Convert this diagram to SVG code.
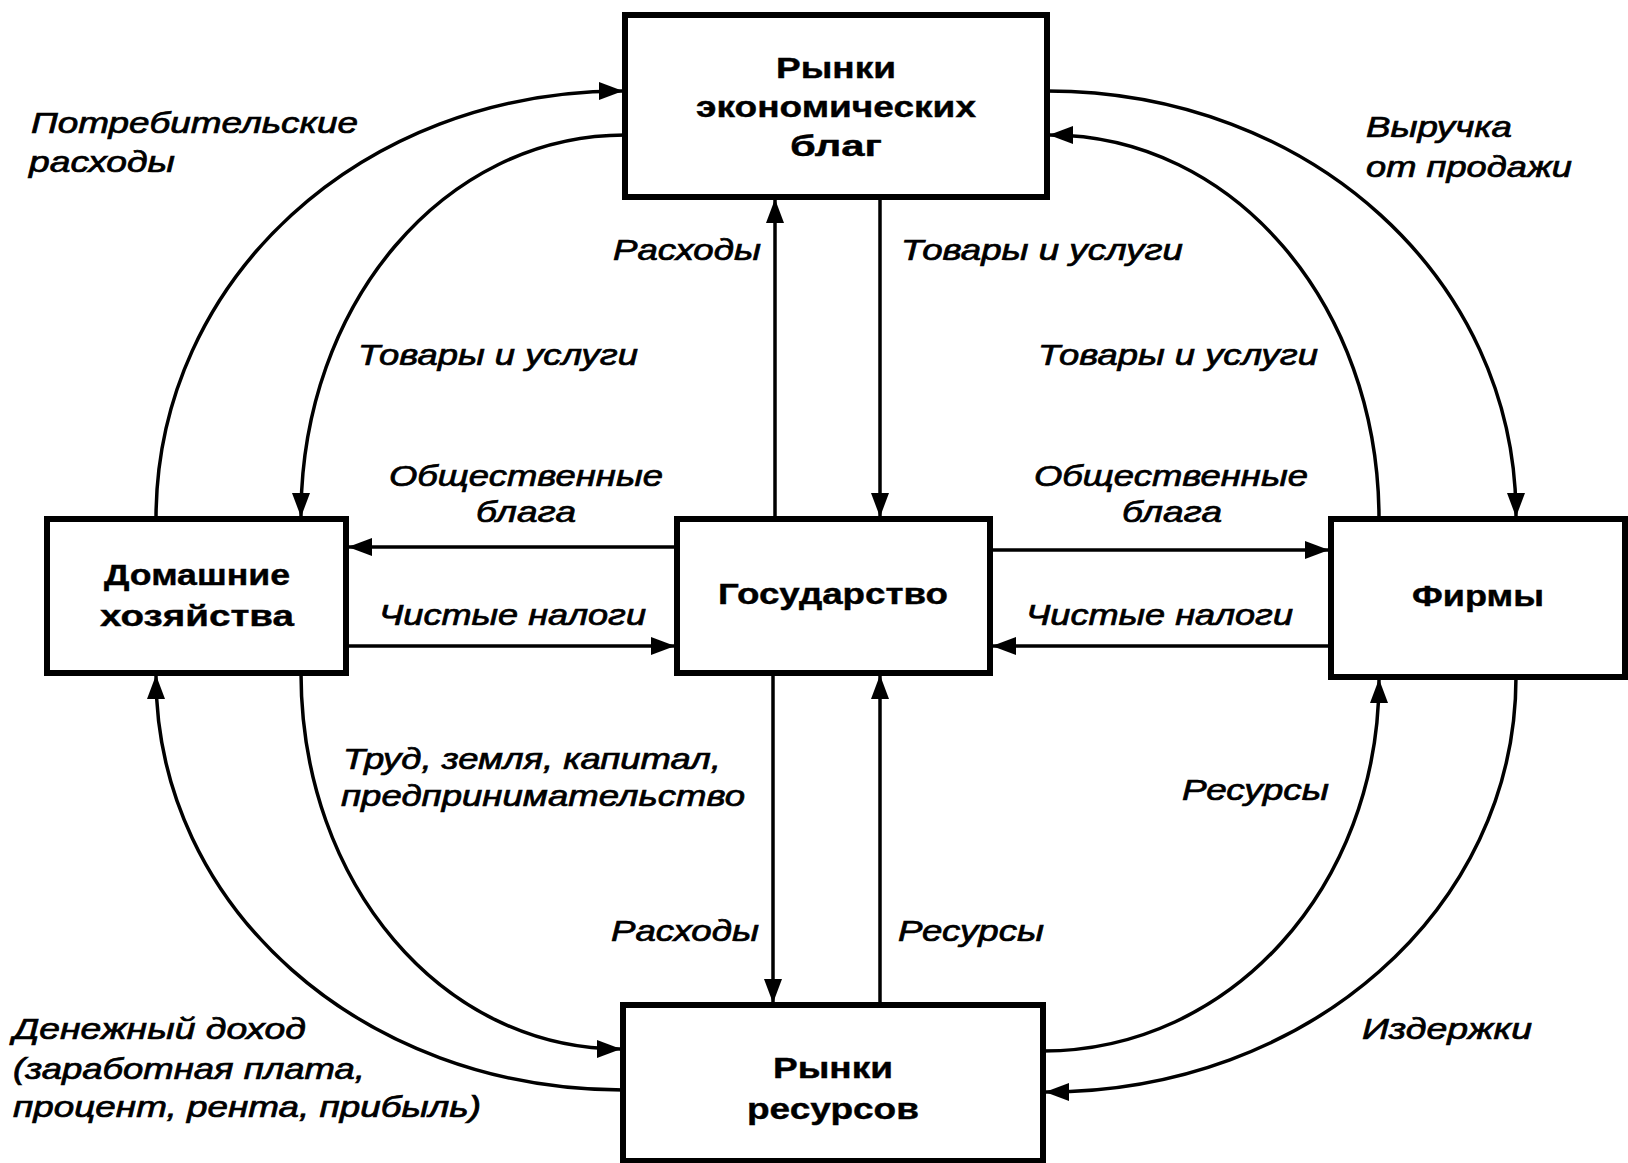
<svg xmlns="http://www.w3.org/2000/svg" width="1628" height="1163" viewBox="0 0 1628 1163">
<style>
.box{fill:#fff;stroke:#000;stroke-width:6}
.nt{font-family:"Liberation Sans",Arial,sans-serif;font-weight:bold;font-size:29px;fill:#000;stroke:#000;stroke-width:0.4;text-anchor:middle}
.lb{font-family:"Liberation Sans",Arial,sans-serif;font-style:italic;font-size:29px;fill:#000;stroke:#000;stroke-width:0.7}
.ln{fill:none;stroke:#000;stroke-width:3.5}
</style>
<defs>
<marker id="ah" markerUnits="userSpaceOnUse" markerWidth="24" markerHeight="18" refX="23" refY="9" orient="auto">
<path d="M0,0 L24,9 L0,18 z" fill="#000"/>
</marker>
</defs>
<rect width="1628" height="1163" fill="#fff"/>
<g id="connectors">
<path class="ln" d="M156,519 C156,279 362,91 622,91" marker-end="url(#ah)"/>
<path class="ln" d="M625,135 C444,135 301,304 301,516" marker-end="url(#ah)"/>
<path class="ln" d="M1047,91 C1310,91 1516,279 1516,516" marker-end="url(#ah)"/>
<path class="ln" d="M1379,519 C1379,304 1233,135 1050,135" marker-end="url(#ah)"/>
<path class="ln" d="M301,673 C301,884 443,1049 620,1049" marker-end="url(#ah)"/>
<path class="ln" d="M623,1090 C362,1090 156,907 156,676" marker-end="url(#ah)"/>
<path class="ln" d="M1043,1051 C1231,1051 1379,886 1379,680" marker-end="url(#ah)"/>
<path class="ln" d="M1516,677 C1516,909 1308,1092 1046,1092" marker-end="url(#ah)"/>
<path class="ln" d="M775,519 L775,200" marker-end="url(#ah)"/>
<path class="ln" d="M880,197 L880,516" marker-end="url(#ah)"/>
<path class="ln" d="M773,673 L773,1002" marker-end="url(#ah)"/>
<path class="ln" d="M880,1005 L880,676" marker-end="url(#ah)"/>
<path class="ln" d="M677,547 L349,547" marker-end="url(#ah)"/>
<path class="ln" d="M346,646 L674,646" marker-end="url(#ah)"/>
<path class="ln" d="M990,550 L1328,550" marker-end="url(#ah)"/>
<path class="ln" d="M1331,646 L993,646" marker-end="url(#ah)"/>
</g>
<g id="n-markets-goods">
<rect class="box" x="625" y="15" width="422" height="182"/>
<text class="nt" x="836" y="78" textLength="120" lengthAdjust="spacingAndGlyphs">Рынки</text>
<text class="nt" x="836" y="117" textLength="280" lengthAdjust="spacingAndGlyphs">экономических</text>
<text class="nt" x="836" y="156" textLength="92" lengthAdjust="spacingAndGlyphs">благ</text>
</g>
<g id="n-households">
<rect class="box" x="47" y="519" width="299" height="154"/>
<text class="nt" x="197" y="585" textLength="186" lengthAdjust="spacingAndGlyphs">Домашние</text>
<text class="nt" x="197" y="626" textLength="194" lengthAdjust="spacingAndGlyphs">хозяйства</text>
</g>
<g id="n-government">
<rect class="box" x="677" y="519" width="313" height="154"/>
<text class="nt" x="833" y="604" textLength="230" lengthAdjust="spacingAndGlyphs">Государство</text>
</g>
<g id="n-firms">
<rect class="box" x="1331" y="519" width="294" height="158"/>
<text class="nt" x="1478" y="606" textLength="132" lengthAdjust="spacingAndGlyphs">Фирмы</text>
</g>
<g id="n-markets-resources">
<rect class="box" x="623" y="1005" width="420" height="156"/>
<text class="nt" x="833" y="1078" textLength="120" lengthAdjust="spacingAndGlyphs">Рынки</text>
<text class="nt" x="833" y="1119" textLength="172" lengthAdjust="spacingAndGlyphs">ресурсов</text>
</g>
<g id="labels">
<text class="lb" x="31" y="133" textLength="327" lengthAdjust="spacingAndGlyphs">Потребительские</text>
<text class="lb" x="29" y="172" textLength="146" lengthAdjust="spacingAndGlyphs">расходы</text>
<text class="lb" x="1366" y="137" textLength="146" lengthAdjust="spacingAndGlyphs">Выручка</text>
<text class="lb" x="1366" y="177" textLength="206" lengthAdjust="spacingAndGlyphs">от продажи</text>
<text class="lb" x="613" y="260" textLength="148" lengthAdjust="spacingAndGlyphs">Расходы</text>
<text class="lb" x="901" y="260" textLength="282" lengthAdjust="spacingAndGlyphs">Товары и услуги</text>
<text class="lb" x="358" y="365" textLength="280" lengthAdjust="spacingAndGlyphs">Товары и услуги</text>
<text class="lb" x="1038" y="365" textLength="280" lengthAdjust="spacingAndGlyphs">Товары и услуги</text>
<text class="lb" x="389" y="486" textLength="274" lengthAdjust="spacingAndGlyphs">Общественные</text>
<text class="lb" x="476" y="522" textLength="100" lengthAdjust="spacingAndGlyphs">блага</text>
<text class="lb" x="1034" y="486" textLength="274" lengthAdjust="spacingAndGlyphs">Общественные</text>
<text class="lb" x="1122" y="522" textLength="100" lengthAdjust="spacingAndGlyphs">блага</text>
<text class="lb" x="379" y="625" textLength="267" lengthAdjust="spacingAndGlyphs">Чистые налоги</text>
<text class="lb" x="1026" y="625" textLength="267" lengthAdjust="spacingAndGlyphs">Чистые налоги</text>
<text class="lb" x="343" y="769" textLength="378" lengthAdjust="spacingAndGlyphs">Труд, земля, капитал,</text>
<text class="lb" x="341" y="806" textLength="404" lengthAdjust="spacingAndGlyphs">предпринимательство</text>
<text class="lb" x="1182" y="800" textLength="147" lengthAdjust="spacingAndGlyphs">Ресурсы</text>
<text class="lb" x="611" y="941" textLength="148" lengthAdjust="spacingAndGlyphs">Расходы</text>
<text class="lb" x="898" y="941" textLength="146" lengthAdjust="spacingAndGlyphs">Ресурсы</text>
<text class="lb" x="13" y="1039" textLength="293" lengthAdjust="spacingAndGlyphs">Денежный доход</text>
<text class="lb" x="13" y="1079" textLength="352" lengthAdjust="spacingAndGlyphs">(заработная плата,</text>
<text class="lb" x="13" y="1117" textLength="468" lengthAdjust="spacingAndGlyphs">процент, рента, прибыль)</text>
<text class="lb" x="1362" y="1039" textLength="170" lengthAdjust="spacingAndGlyphs">Издержки</text>
</g>
</svg>
